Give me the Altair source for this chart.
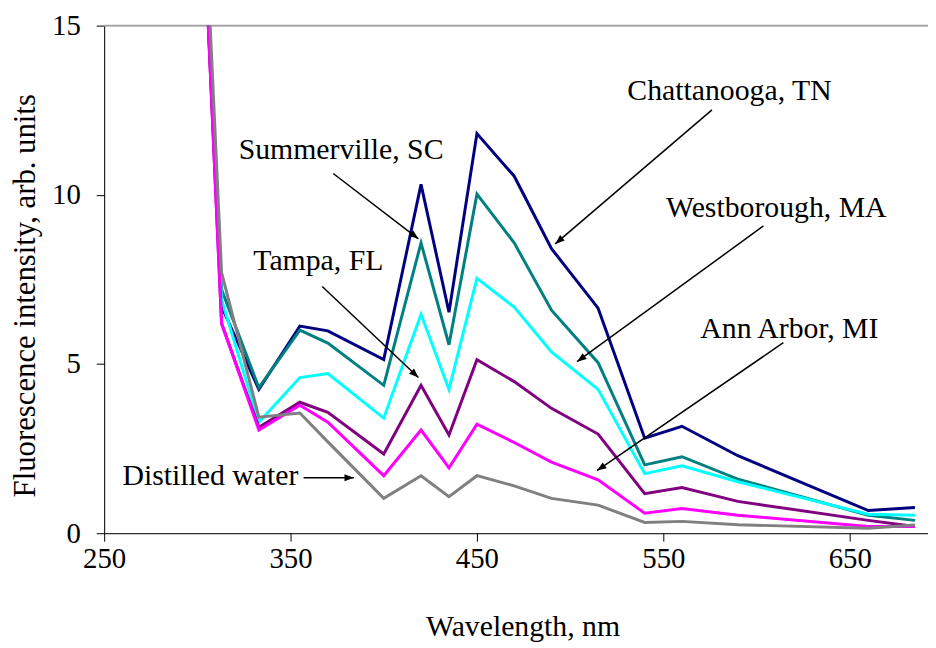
import math
import altair as alt
import pandas as pd

# ---- data ----
wavelength = [300, 313, 333, 355, 370, 400, 420, 435, 450, 470, 490, 515, 540, 560, 590, 660, 685]

chattanooga = [22.0, 6.7, 4.25, 6.12, 5.98, 5.13, 10.31, 6.53, 11.81, 10.55, 8.41, 6.65, 2.81, 3.16, 2.29, 0.67, 0.76]
summerville = [22.0, 7.2, 4.3, 6.0, 5.62, 4.37, 8.58, 5.57, 10.02, 8.58, 6.59, 5.04, 2.02, 2.26, 1.6, 0.53, 0.38]
westborough = [22.0, 6.9, 3.28, 4.6, 4.72, 3.4, 6.47, 4.25, 7.53, 6.68, 5.36, 4.25, 1.76, 1.99, 1.52, 0.56, 0.53]
tampa = [22.2, 6.2, 3.13, 3.87, 3.57, 2.34, 4.37, 2.9, 5.13, 4.48, 3.69, 2.93, 1.17, 1.35, 0.94, 0.38, 0.2]
ann_arbor = [22.2, 6.2, 3.05, 3.78, 3.28, 1.7, 3.05, 1.93, 3.22, 2.68, 2.1, 1.58, 0.59, 0.73, 0.53, 0.2, 0.2]
distilled = [23.2, 7.7, 3.43, 3.55, 2.7, 1.03, 1.7, 1.08, 1.7, 1.4, 1.03, 0.83, 0.32, 0.35, 0.25, 0.15, 0.24]

series_names = ["Chattanooga, TN", "Summerville, SC", "Westborough, MA",
                "Tampa, FL", "Ann Arbor, MI", "Distilled water"]
series_values = [chattanooga, summerville, westborough, tampa, ann_arbor, distilled]
series_colors = ["#000080", "#008080", "#00FFFF", "#800080", "#FF00FF", "#808080"]

# annotation labels and arrows (data units)
label_text = ["Chattanooga, TN", "Summerville, SC", "Westborough, MA",
              "Tampa, FL", "Ann Arbor, MI", "Distilled water"]
label_x = [585.5, 377.1, 610.6, 364.9, 617.6, 307.0]
label_y = [13.07, 11.31, 9.61, 8.03, 6.04, 1.70]
arrow_x0 = [576.1, 372.9, 603.7, 367.0, 614.4, 357.0]
arrow_y0 = [12.51, 10.63, 9.08, 7.29, 5.63, 1.64]
arrow_x1 = [492.0, 418.6, 503.7, 418.6, 514.4, 384.0]
arrow_y1 = [8.55, 8.70, 5.07, 4.60, 1.85, 1.64]

x_ticks = [250, 350, 450, 550, 650]
y_ticks = [0, 5, 10, 15]

X_DOMAIN = [250, 692]
Y_DOMAIN = [0, 15]
W, H = 831, 512
FONT = "Liberation Serif"

rows = []
for name, vals in zip(series_names, series_values):
    for wl, v in zip(wavelength, vals):
        rows.append({"series": name, "wavelength": wl, "value": v})
df = pd.DataFrame(rows)

px_per_x = W / (X_DOMAIN[1] - X_DOMAIN[0])
px_per_y = H / (Y_DOMAIN[1] - Y_DOMAIN[0])
angles = []
for a, b, c, d in zip(arrow_x0, arrow_y0, arrow_x1, arrow_y1):
    dx = (c - a) * px_per_x
    dy = -(d - b) * px_per_y
    angles.append(math.degrees(math.atan2(dx, -dy)) % 360)

ann = pd.DataFrame({"text": label_text, "lx": label_x, "ly": label_y,
                    "x0": arrow_x0, "y0": arrow_y0, "x1": arrow_x1, "y1": arrow_y1,
                    "angle": angles})

xs = alt.Scale(domain=X_DOMAIN, nice=False, zero=False)
ys = alt.Scale(domain=Y_DOMAIN, nice=False)

x_axis = alt.Axis(values=x_ticks, grid=False, domainColor="black", tickColor="black",
                  tickSize=8, labelFont=FONT, labelFontSize=29, labelColor="black",
                  labelPadding=4, title="Wavelength, nm", titleFont=FONT,
                  titleFontSize=30, titleFontWeight="normal", titleColor="black",
                  titlePadding=38, titleX=422, labelFlush=False)
y_axis = alt.Axis(values=y_ticks, grid=False, domainColor="black", tickColor="black",
                  tickSize=8, labelFont=FONT, labelFontSize=29, labelColor="black",
                  labelPadding=16, title="Fluorescence intensity, arb. units",
                  titleFont=FONT, titleFontSize=31, titleFontWeight="normal",
                  titleColor="black", titlePadding=10, titleY=272)

lines = alt.Chart(df).mark_line(strokeWidth=3, clip=True).encode(
    x=alt.X("wavelength:Q", scale=xs, axis=x_axis),
    y=alt.Y("value:Q", scale=ys, axis=y_axis),
    color=alt.Color("series:N", scale=alt.Scale(domain=series_names, range=series_colors),
                    legend=None),
    order=alt.Order("wavelength:Q"),
)

top_border = alt.Chart(pd.DataFrame({"v": [15]})).mark_rule(color="#a0a0a0", strokeWidth=2).encode(
    y=alt.Y("v:Q", scale=ys)
)

texts = alt.Chart(ann).mark_text(font=FONT, fontSize=30, color="black",
                                 align="center", baseline="middle").encode(
    x=alt.X("lx:Q", scale=xs), y=alt.Y("ly:Q", scale=ys), text="text:N"
)

arrow_lines = alt.Chart(ann).mark_rule(color="black", strokeWidth=1.5).encode(
    x=alt.X("x0:Q", scale=xs), y=alt.Y("y0:Q", scale=ys),
    x2="x1:Q", y2="y1:Q"
)

arrow_heads = alt.Chart(ann).mark_point(
    shape="M0,0 L-0.75,2 L0.75,2 Z", filled=True, color="black", size=90, opacity=1
).encode(
    x=alt.X("x1:Q", scale=xs), y=alt.Y("y1:Q", scale=ys),
    angle=alt.Angle("angle:Q", scale=None)
)

chart = alt.layer(top_border, lines, arrow_lines, arrow_heads, texts).properties(
    width=W, height=H,
    autosize=alt.AutoSizeParams(type="none"),
    padding={"left": 97, "top": 15, "right": 0, "bottom": 113},
).configure_view(stroke=None).configure(background="white")

chart.save("out.html", embed_options={"renderer": "svg", "actions": False})
